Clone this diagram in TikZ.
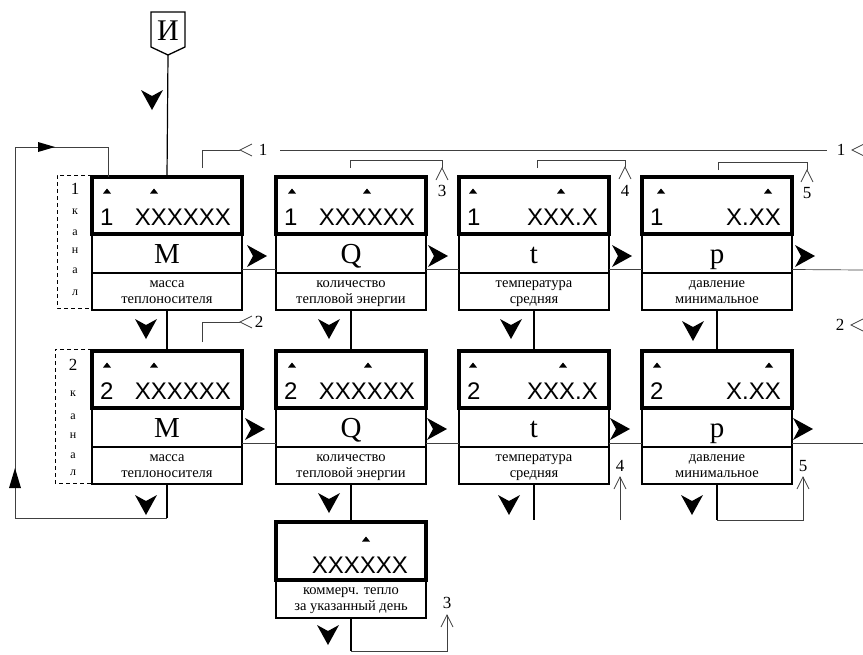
\documentclass[tikz,border=0pt]{standalone}
\usepackage{fontspec}
\setmainfont{Liberation Serif}
\newfontfamily\arialf{Liberation Sans}
\newcommand\mkbox[4]{%
  \node[box] (#1) at ({#2+75},{#3+66.5}) {};
  \draw[disp] (#2,#3) rectangle ({#2+150},{#3+57});
  \draw[line width=1.4pt] (#2,{#3+96}) -- ({#2+150},{#3+96});
  \node[sym] (#1-s) at ({#2+75},{#3+86}) {#4};
}
\newcommand\tri[2]{\fill ({#1-4},{#2+2.5}) -- ({#1},{#2-2.5}) -- ({#1+4},{#2+2.5}) -- cycle;}
\newcommand\dnum[7]{%
  \node[num, anchor=base west] (#1-n) at ({#2+8},{#3+48}) {#4};
  \node[num, anchor=base east] (#1-v) at ({#2+139},{#3+48}) {#5};
  \tri{#2+#6}{#3+14}\tri{#2+#7}{#3+14}
}
\newcommand\lbl[5]{%
  \node[lab] (#1-a) at ({#2+75},{#3+110}) {#4};
  \node[lab] (#1-b) at ({#2+75},{#3+126}) {#5};
}
\newcommand\chd[2]{\fill ({#1-11},{#2-10}) -- ++(11,6) -- ++(11,-6) -- ++(-11,20) -- cycle;}
\newcommand\chr[2]{\fill ({#1-10},{#2-11}) -- ++(6,11) -- ++(-6,11) -- ++(20,-11) -- cycle;}
\newcommand\upang[2]{\draw[jline] ({#1-6},{#2+12}) -- (#1,#2) -- ({#1+6},{#2+12});}
\newcommand\ltang[2]{\draw[jline] ({#1+12},{#2-6}) -- (#1,#2) -- ({#1+12},{#2+6});}
\begin{document}
\begin{tikzpicture}[x=1pt,y=-1pt,
  box/.style={draw, line width=1.4pt, minimum width=150pt, minimum height=133pt, inner sep=0pt, outer sep=0pt},
  disp/.style={line width=3.6pt},
  num/.style={font=\arialf\fontsize{24}{24}\selectfont, inner sep=0pt},
  sym/.style={font=\fontsize{29}{29}\selectfont, inner sep=0pt, anchor=base},
  lab/.style={font=\fontsize{14.5}{14.5}\selectfont, inner sep=0pt, anchor=base},
  flow/.style={line width=1.2pt},
  jline/.style={line width=0.7pt, black!75},
  kan/.style={font=\fontsize{12}{12}\selectfont, inner sep=0pt},
  kanbig/.style={font=\fontsize{17}{17}\selectfont, inner sep=0pt},
  reflab/.style={font=\fontsize{17}{17}\selectfont, inner sep=0pt},
  dbox/.style={line width=0.9pt, dash pattern=on 4pt off 3pt}]
\useasboundingbox (0,0) rectangle (863,654);

% entry
\draw[line width=1.3pt] (151,12) -- (185,12) -- (185,47) -- (168,55) -- (151,47) -- cycle;
\node[font=\fontsize{30}{30}\selectfont, inner sep=0pt] (I) at (168,31) {И};
\coordinate (Ip) at (168,55);

% row 1
\mkbox{m1}{92}{177}{M}\dnum{m1}{92}{177}{1}{XXXXXX}{15}{62}\lbl{m1}{92}{177}{масса}{теплоносителя}
\mkbox{q1}{276}{177}{Q}\dnum{q1}{276}{177}{1}{XXXXXX}{16}{91}\lbl{q1}{276}{177}{количество}{тепловой энергии}
\mkbox{t1}{459}{177}{t}\dnum{t1}{459}{177}{1}{XXX.X}{14}{102}\lbl{t1}{459}{177}{температура}{средняя}
\mkbox{p1}{642}{177}{p}\dnum{p1}{642}{177}{1}{X.XX}{19}{126}\lbl{p1}{642}{177}{давление}{минимальное}
% row 2
\mkbox{m2}{92}{351}{M}\dnum{m2}{92}{351}{2}{XXXXXX}{15}{62}\lbl{m2}{92}{351}{масса}{теплоносителя}
\mkbox{q2}{276}{351}{Q}\dnum{q2}{276}{351}{2}{XXXXXX}{16}{92}\lbl{q2}{276}{351}{количество}{тепловой энергии}
\mkbox{t2}{459}{351}{t}\dnum{t2}{459}{351}{2}{XXX.X}{14}{104}\lbl{t2}{459}{351}{температура}{средняя}
\mkbox{p2}{642}{351}{p}\dnum{p2}{642}{351}{2}{X.XX}{15}{127}\lbl{p2}{642}{351}{давление}{минимальное}
% commercial box
\node[box, minimum height=96pt] (c) at (351,570) {};
\draw[disp] (276,522) rectangle (426,580);
\node[num, anchor=base east] (c-v) at (408,573) {XXXXXX};
\tri{366}{539}
\node[lab] (c-a) at (351,594) {коммерч. тепло};
\node[lab] (c-b) at (351,610) {за указанный день};

% channel side boxes
\draw[dbox] (92,175) -- (57,175) -- (57,308) -- (92,308);
\draw[dbox] (92,349) -- (55,349) -- (55,483) -- (92,483);
\node[kanbig] (k1) at (75,189) {1};
\node[kan] (k1a) at (75,212) {к};
\node[kan] (k1b) at (75,233) {а};
\node[kan] (k1c) at (75,251) {н};
\node[kan] (k1d) at (75,271) {а};
\node[kan] (k1e) at (75,293) {л};
\node[kanbig] (k2) at (73,365) {2};
\node[kan] (k2a) at (73,394) {к};
\node[kan] (k2b) at (73,417) {а};
\node[kan] (k2c) at (73,436) {н};
\node[kan] (k2d) at (73,456) {а};
\node[kan] (k2e) at (73,473) {л};

% vertical flow
\draw[flow] (Ip) -- (m1.north);
\draw[flow] (m1.south) -- (m2.north);
\draw[flow] (q1.south) -- (q2.north);
\draw[flow] (t1.south) -- (t2.north);
\draw[flow] (p1.south) -- (p2.north);
\draw[flow] (q2.south) -- (c.north);
\chd{152}{100}
\chd{146}{329}\chd{329}{329}\chd{511}{329}\chd{693}{331}
\chd{146}{505}\chd{329}{503}\chd{509}{505}\chd{692}{505}
\chd{328}{635}

% horizontal flow
\coordinate (e1) at (863,270);
\coordinate (e2) at (863,443.5);
\draw[jline] ([yshift=-26pt]m1.east) -- ([yshift=-26pt]q1.west);
\draw[jline] ([yshift=-26pt]q1.east) -- ([yshift=-26pt]t1.west);
\draw[jline] ([yshift=-26pt]t1.east) -- ([yshift=-26pt]p1.west);
\draw[jline] ([yshift=-26pt]p1.east) -- (e1);
\draw[jline] ([yshift=-26pt]m2.east) -- ([yshift=-26pt]q2.west);
\draw[jline] ([yshift=-26pt]q2.east) -- ([yshift=-26pt]t2.west);
\draw[jline] ([yshift=-26pt]t2.east) -- ([yshift=-26pt]p2.west);
\draw[jline] ([yshift=-26pt]p2.east) -- (e2);
\chr{257}{256}\chr{438}{256}\chr{622}{256}\chr{805}{256}
\chr{255}{429}\chr{437}{429}\chr{620}{429}\chr{803}{429}

% return loop
\coordinate (lbr) at (167,518);
\coordinate (lbl) at (15,518);
\coordinate (ltl) at (15,147);
\coordinate (ltr) at (108,147);
\draw[flow] (m2.south) -- (lbr);
\draw[jline] (lbr) -- (lbl) -- (ltl) -- (ltr) -- ([xshift=16pt]m1.north west);
\fill (38,142) -- (55,147) -- (38,152) -- cycle;
\fill (9,488) -- (15,468) -- (21,488) -- cycle;

% jump marks, row 1
\coordinate (j1) at (202,168);
\draw[jline] (j1) -- (202,150) -- (240,150);
\ltang{240}{150}
\node[reflab] (r1) at (263,150) {1};
\coordinate (j1l) at (280,150);
\coordinate (j1r) at (827,150);
\draw[jline] (j1l) -- (j1r);
\node[reflab] (r1r) at (841,150) {1};
\ltang{852}{150}
\coordinate (j3) at (350,168);
\draw[jline] (j3) -- (350,160) -- (442,160) -- (442,168);
\upang{442}{168}
\node[reflab] (r3) at (442,191) {3};
\coordinate (j4) at (537,168);
\draw[jline] (j4) -- (537,160) -- (625,160) -- (625,167);
\upang{625}{167}
\node[reflab] (r4) at (625,191) {4};
\coordinate (j5) at (718,170);
\draw[jline] (j5) -- (718,162) -- (807,162) -- (807,170);
\upang{807}{170}
\node[reflab] (r5) at (807,193) {5};

% jump marks, row 2
\coordinate (j2) at (202,342);
\draw[jline] (j2) -- (202,322) -- (240,322);
\ltang{240}{322}
\node[reflab] (r2) at (259,322) {2};
\node[reflab] (r2r) at (840,325) {2};
\ltang{851}{325}
\coordinate (tb) at (534,520);
\draw[flow] (t2.south) -- (tb);
\coordinate (f4) at (620,520);
\draw[jline] (f4) -- (620,477);
\upang{620}{477}
\node[reflab] (r4b) at (620,466) {4};
\coordinate (pb) at (717,520);
\draw[flow] (p2.south) -- (pb);
\draw[jline] (pb) -- (803,520) -- (803,477);
\upang{803}{477}
\node[reflab] (r5b) at (803,466) {5};

% commercial return
\coordinate (cb) at (351,651);
\draw[flow] (c.south) -- (cb);
\draw[jline] (cb) -- (447,651) -- (447,615);
\upang{447}{615}
\node[reflab] (r3b) at (447,603) {3};
\end{tikzpicture}
\end{document}
